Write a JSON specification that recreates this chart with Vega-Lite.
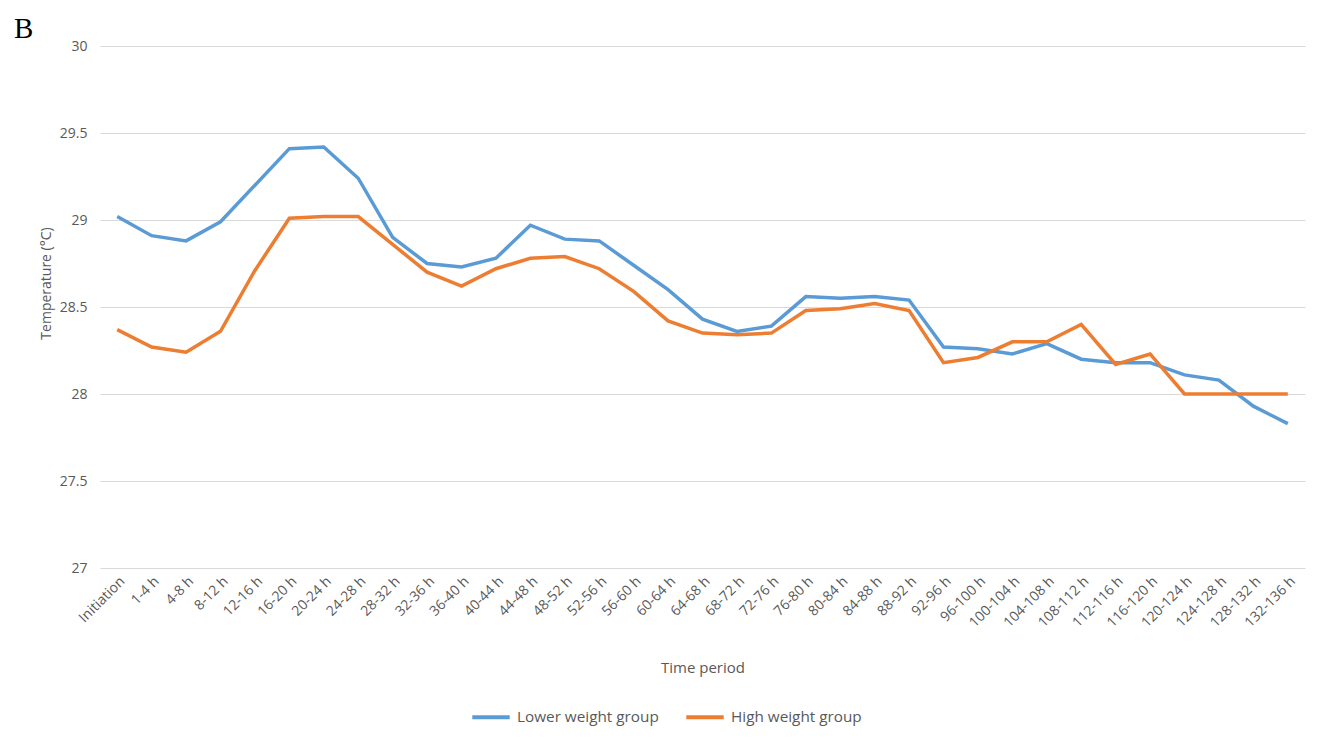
{
  "$schema": "https://vega.github.io/schema/vega-lite/v6.json",
  "width": 1205,
  "height": 522,
  "autosize": {"type": "none"},
  "padding": {"left": 100, "top": 46, "right": 23, "bottom": 184},
  "background": "white",
  "title": {
    "text": "B",
    "anchor": "start",
    "frame": "group",
    "font": "Liberation Serif",
    "fontSize": 29,
    "fontWeight": "normal",
    "color": "#000000",
    "dx": -86,
    "dy": 36,
    "offset": 8,
    "baseline": "alphabetic"
  },
  "config": {
    "view": {"stroke": null},
    "font": "Open Sans",
    "axis": {"labelColor": "#595959", "titleColor": "#595959", "labelFont": "Open Sans", "titleFont": "Open Sans", "titleFontWeight": "normal"}
  },
  "data": {
    "values": [
      {"period": "Initiation", "Lower weight group": 29.02, "High weight group": 28.37},
      {"period": "1-4 h", "Lower weight group": 28.91, "High weight group": 28.27},
      {"period": "4-8 h", "Lower weight group": 28.88, "High weight group": 28.24},
      {"period": "8-12 h", "Lower weight group": 28.99, "High weight group": 28.36},
      {"period": "12-16 h", "Lower weight group": 29.2, "High weight group": 28.71},
      {"period": "16-20 h", "Lower weight group": 29.41, "High weight group": 29.01},
      {"period": "20-24 h", "Lower weight group": 29.42, "High weight group": 29.02},
      {"period": "24-28 h", "Lower weight group": 29.24, "High weight group": 29.02},
      {"period": "28-32 h", "Lower weight group": 28.9, "High weight group": 28.86},
      {"period": "32-36 h", "Lower weight group": 28.75, "High weight group": 28.7},
      {"period": "36-40 h", "Lower weight group": 28.73, "High weight group": 28.62},
      {"period": "40-44 h", "Lower weight group": 28.78, "High weight group": 28.72},
      {"period": "44-48 h", "Lower weight group": 28.97, "High weight group": 28.78},
      {"period": "48-52 h", "Lower weight group": 28.89, "High weight group": 28.79},
      {"period": "52-56 h", "Lower weight group": 28.88, "High weight group": 28.72},
      {"period": "56-60 h", "Lower weight group": 28.74, "High weight group": 28.59},
      {"period": "60-64 h", "Lower weight group": 28.6, "High weight group": 28.42},
      {"period": "64-68 h", "Lower weight group": 28.43, "High weight group": 28.35},
      {"period": "68-72 h", "Lower weight group": 28.36, "High weight group": 28.34},
      {"period": "72-76 h", "Lower weight group": 28.39, "High weight group": 28.35},
      {"period": "76-80 h", "Lower weight group": 28.56, "High weight group": 28.48},
      {"period": "80-84 h", "Lower weight group": 28.55, "High weight group": 28.49},
      {"period": "84-88 h", "Lower weight group": 28.56, "High weight group": 28.52},
      {"period": "88-92 h", "Lower weight group": 28.54, "High weight group": 28.48},
      {"period": "92-96 h", "Lower weight group": 28.27, "High weight group": 28.18},
      {"period": "96-100 h", "Lower weight group": 28.26, "High weight group": 28.21},
      {"period": "100-104 h", "Lower weight group": 28.23, "High weight group": 28.3},
      {"period": "104-108 h", "Lower weight group": 28.29, "High weight group": 28.3},
      {"period": "108-112 h", "Lower weight group": 28.2, "High weight group": 28.4},
      {"period": "112-116 h", "Lower weight group": 28.18, "High weight group": 28.17},
      {"period": "116-120 h", "Lower weight group": 28.18, "High weight group": 28.23},
      {"period": "120-124 h", "Lower weight group": 28.11, "High weight group": 28.0},
      {"period": "124-128 h", "Lower weight group": 28.08, "High weight group": 28.0},
      {"period": "128-132 h", "Lower weight group": 27.93, "High weight group": 28.0},
      {"period": "132-136 h", "Lower weight group": 27.83, "High weight group": 28.0}
    ]
  },
  "transform": [
    {"fold": ["Lower weight group", "High weight group"], "as": ["group", "temp"]}
  ],
  "mark": {"type": "line", "strokeWidth": 3.5},
  "encoding": {
    "x": {
      "field": "period",
      "type": "ordinal",
      "sort": null,
      "scale": {"type": "point", "padding": 0.5},
      "axis": {
        "title": "Time period",
        "titleFontSize": 15,
        "titlePadding": 31,
        "labelAngle": -45,
        "labelFontSize": 14,
        "labelPadding": 6,
        "labelDx": -4,
        "domain": false,
        "ticks": false,
        "grid": false
      }
    },
    "y": {
      "field": "temp",
      "type": "quantitative",
      "scale": {"domain": [27, 30], "zero": false},
      "axis": {
        "title": "Temperature (°C)",
        "titleFontSize": 14,
        "titlePadding": 6,
        "titleY": 237,
        "values": [27, 27.5, 28, 28.5, 29, 29.5, 30],
        "format": "~g",
        "labelFontSize": 14,
        "labelPadding": 13,
        "domain": false,
        "ticks": false,
        "gridColor": "#d9d9d9",
        "gridWidth": 1.2
      }
    },
    "color": {
      "field": "group",
      "type": "nominal",
      "scale": {"domain": ["Lower weight group", "High weight group"], "range": ["#5B9BD5", "#ED7D31"]},
      "legend": {
        "title": null,
        "orient": "none",
        "legendX": 370,
        "legendY": 650,
        "direction": "horizontal",
        "symbolType": "stroke",
        "symbolStrokeWidth": 4,
        "symbolSize": 1400,
        "labelFontSize": 15.3,
        "labelOffset": 5,
        "labelColor": "#595959",
        "columnPadding": 19
      }
    }
  }
}
